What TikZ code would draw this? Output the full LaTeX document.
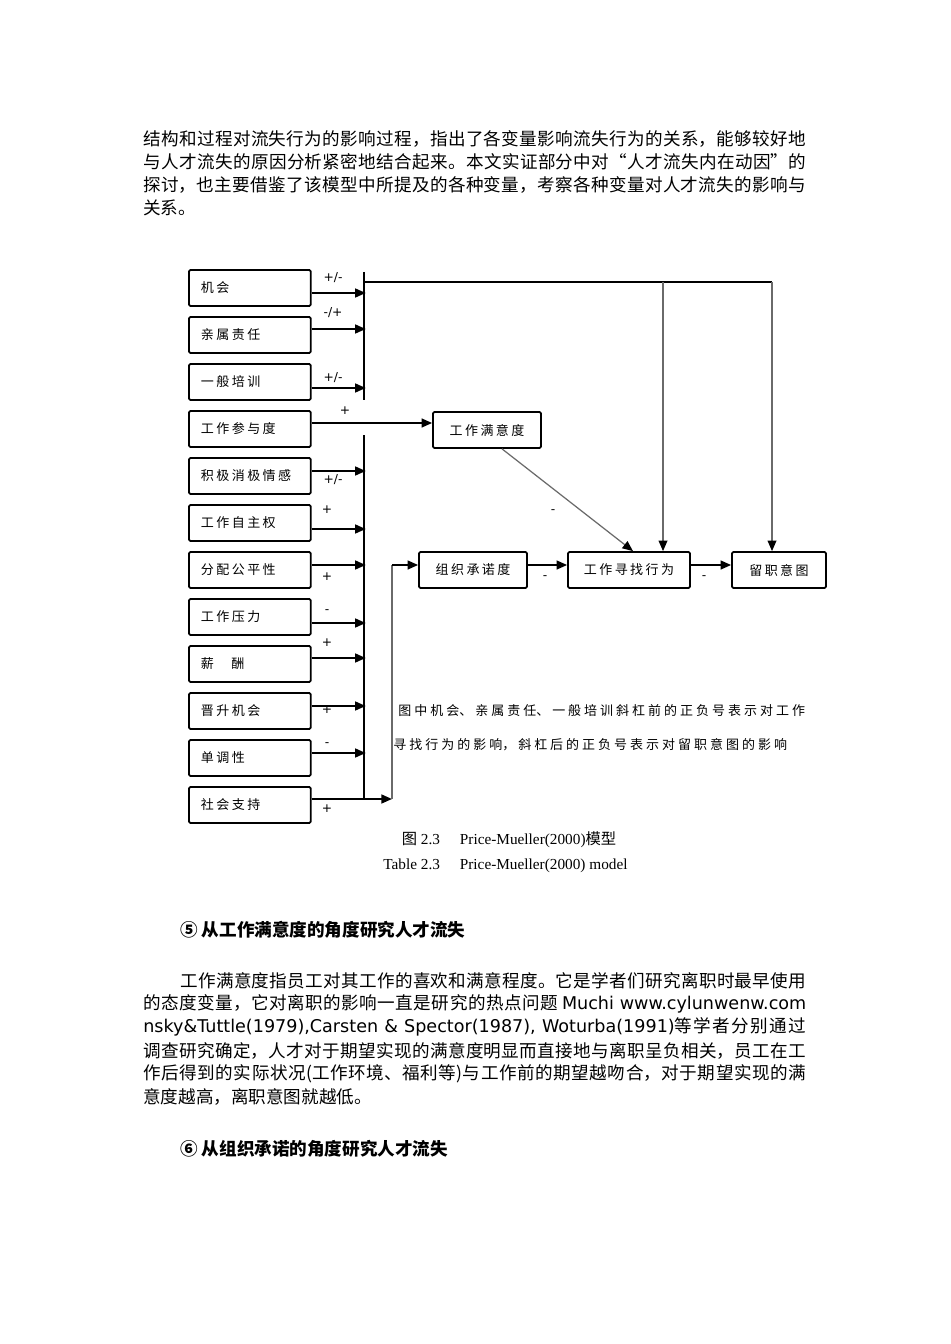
\documentclass[tikz,border=0pt]{standalone}
\usepackage{fontspec}
\setmainfont{DejaVu Sans}
\newfontfamily\cjk{Noto Sans CJK SC}
\newfontfamily\lat{DejaVu Sans}
\newfontfamily\capfont{Liberation Serif}
\usetikzlibrary{arrows.meta,positioning,calc}
\definecolor{LineGray}{HTML}{6A6A6A}
\XeTeXlinebreaklocale "zh"
\XeTeXlinebreakskip=0pt plus 1pt
\hbadness=10000
\hfuzz=20pt
\newcommand\boxtext{\cjk\fontsize{7.4pt}{9pt}\selectfont\XeTeXlinebreakskip=1.4pt\relax}
\newcommand\notetext{\cjk\fontsize{7.4pt}{9pt}\selectfont\XeTeXlinebreakskip=1.7pt\relax}
\newcommand\bodytext{\cjk\fontsize{10pt}{13pt}\selectfont\XeTeXlinebreakskip=0pt plus 4pt minus 0.3pt\relax}
\newcommand\headtext{\cjk\bfseries\fontsize{10pt}{12pt}\selectfont}
\newcommand\signtext{\lat\fontsize{7pt}{8pt}\selectfont}
\newcommand\captext{\capfont\fontsize{8.7pt}{10pt}\selectfont}
\newcommand\fillline[2]{\parbox{#1}{\parfillskip=0pt\relax #2}}

\begin{document}
\begin{tikzpicture}[x=0.02cm,y=-0.02cm,>={Triangle[length=6pt,width=5pt]},
  factor/.style={draw,line width=1pt,rounded corners=0.8pt,anchor=west,minimum height=0.72cm,text width=1.96cm,inner xsep=0.24cm,align=left,font=\boxtext},
  stage/.style={draw,line width=1pt,rounded corners=0.8pt,minimum height=0.72cm,inner xsep=0pt,align=center,font=\boxtext},
  arr/.style={->,line width=1.1pt},
  bar/.style={line width=0.6pt},
  thinarr/.style={-{Triangle[length=6pt,width=5pt,color=black]},line width=0.7pt,LineGray},
  sign/.style={font=\signtext,inner sep=0pt},
  bodyline/.style={anchor=west,inner sep=0pt,font=\bodytext},
  note/.style={anchor=west,inner sep=0pt,text width=9cm,align=left,font=\notetext}]
\fill[white] (0,0) rectangle (950,1344);
\useasboundingbox (0,0) rectangle (950,1344);
% text above the figure
\node[bodyline] (pa1) at (143,139) {\fillline{13.26cm}{结构和过程对流失行为的影响过程，指出了各变量影响流失行为的关系，能够较好地}};
\node[bodyline] (pa2) at (143,162) {\fillline{13.26cm}{与人才流失的原因分析紧密地结合起来。本文实证部分中对“人才流失内在动因”的}};
\node[bodyline] (pa3) at (143,185) {\fillline{13.26cm}{探讨，也主要借鉴了该模型中所提及的各种变量，考察各种变量对人才流失的影响与}};
\node[bodyline] (pa4) at (143,208) {关系。};
% left column of factors
\foreach \name/\txt [count=\i from 0] in {jihui/机会,qinshu/亲属责任,peixun/一般培训,canyu/工作参与度,qinggan/积极消极情感,zizhu/工作自主权,gongping/分配公平性,yali/工作压力,xinchou/{薪\hspace{10pt}酬},jinsheng/晋升机会,dandiao/单调性,zhichi/社会支持}
  \node[factor] (\name) at (188,288+47*\i) {\txt};
% stages
\node[stage,text width=2.16cm] (manyi) at (487,430) {工作满意度};
\node[stage,text width=2.16cm] (chengnuo) at (473,570) {组织承诺度};
\node[stage,text width=2.44cm] (xunzhao) at (629,570) {工作寻找行为};
\node[stage,text width=1.88cm] (liuzhi) at (779,570) {留职意图};
% collecting bars
\coordinate (bara) at (364,272); \coordinate (barb) at (364,400);
\coordinate (barc) at (364,435); \coordinate (turn) at (392,799);
\coordinate (bend) at (392,565);
\coordinate (topl) at (364,282); \coordinate (topm) at (663,282); \coordinate (topr) at (772,282);
\draw[bar] (bara) -- (barb);
\draw[bar] (barc) -- (barc |- turn);
\foreach \name/\dy in {jihui/5,qinshu/-6,peixun/6,qinggan/-5,zizhu/6,gongping/-5,yali/6,xinchou/-6,jinsheng/-5,dandiao/-5}
  \draw[arr] ($(\name.east)+(0,\dy)$) -- +(54,0);
\draw[arr] ($(canyu.east)+(0,-6)$) -- ($(manyi.west)+(0,-7)$);
\draw[arr] ($(zhichi.east)+(0,-6)$) -- (turn);
\draw[line width=0.9pt,LineGray] (turn) -- (bend);
\draw[arr] (bend) -- (chengnuo.west |- bend);
\draw[line width=1.1pt] (topl) -- (topr);
\draw[thinarr] (topm) -- (topm |- xunzhao.north);
\draw[thinarr] (topr) -- (topr |- liuzhi.north);
\draw[thinarr] ($(manyi.south)+(15,0)$) -- ($(xunzhao.north)+(4,0)$);
\draw[arr] ($(chengnuo.east)+(0,-5)$) -- ($(xunzhao.west)+(0,-5)$);
\draw[arr] ($(xunzhao.east)+(0,-5)$) -- ($(liuzhi.west)+(0,-5)$);
% signs
\node[sign] (s1) at (333,278) {+/-};
\node[sign] (s2) at (333,313) {-/+};
\node[sign] (s3) at (333,378) {+/-};
\node[sign] (s4) at (345,411) {+};
\node[sign] (s5) at (333,480) {+/-};
\node[sign] (s6) at (327,510) {+};
\node[sign] (s7) at (327,577) {+};
\node[sign] (s8) at (327,612) {-};
\node[sign] (s9) at (327,643) {+};
\node[sign] (s10) at (327,710) {+};
\node[sign] (s11) at (327,745) {-};
\node[sign] (s12) at (327,809) {+};
\node[sign] (s13) at (553,512) {-};
\node[sign] (s14) at (545,578) {-};
\node[sign] (s15) at (704,578) {-};
% note and captions
\node[note] (note1) at (398,711) {图中机会、亲属责任、一般培训斜杠前的正负号表示对工作};
\node[note] (note2) at (393,745) {寻找行为的影响，斜杠后的正负号表示对留职意图的影响};
\node[font=\captext,inner sep=0pt] (cap1) at (509,840) {{\cjk 图} 2.3\hspace{1.3em}Price-Mueller(2000){\cjk 模型}};
\node[font=\captext,inner sep=0pt,anchor=west] (cap2) at (383,866) {Table 2.3\hspace{1.3em}Price-Mueller(2000) model};
% text below the figure
\node[anchor=west,inner sep=0pt,font=\headtext] (h5) at (180,930) {⑤ 从工作满意度的角度研究人才流失};
\node[bodyline] (pb1) at (180,981) {\fillline{12.52cm}{工作满意度指员工对其工作的喜欢和满意程度。它是学者们研究离职时最早使用}};
\node[bodyline] (pb2) at (143,1004) {\fillline{13.26cm}{的态度变量，它对离职的影响一直是研究的热点问题 {\lat Muchi www.cylunwenw.com}}};
\node[bodyline] (pb3) at (143,1027) {\fillline{13.26cm}{{\lat nsky\&Tuttle(1979),Carsten \& Spector(1987), Woturba(1991)}等学者分别通过}};
\node[bodyline] (pb4) at (143,1051) {\fillline{13.26cm}{调查研究确定，人才对于期望实现的满意度明显而直接地与离职呈负相关，员工在工}};
\node[bodyline] (pb5) at (143,1074) {\fillline{13.26cm}{作后得到的实际状况(工作环境、福利等)与工作前的期望越吻合，对于期望实现的满}};
\node[bodyline] (pb6) at (143,1097) {意度越高，离职意图就越低。};
\node[anchor=west,inner sep=0pt,font=\headtext] (h6) at (180,1149) {⑥ 从组织承诺的角度研究人才流失};
\end{tikzpicture}
\end{document}
